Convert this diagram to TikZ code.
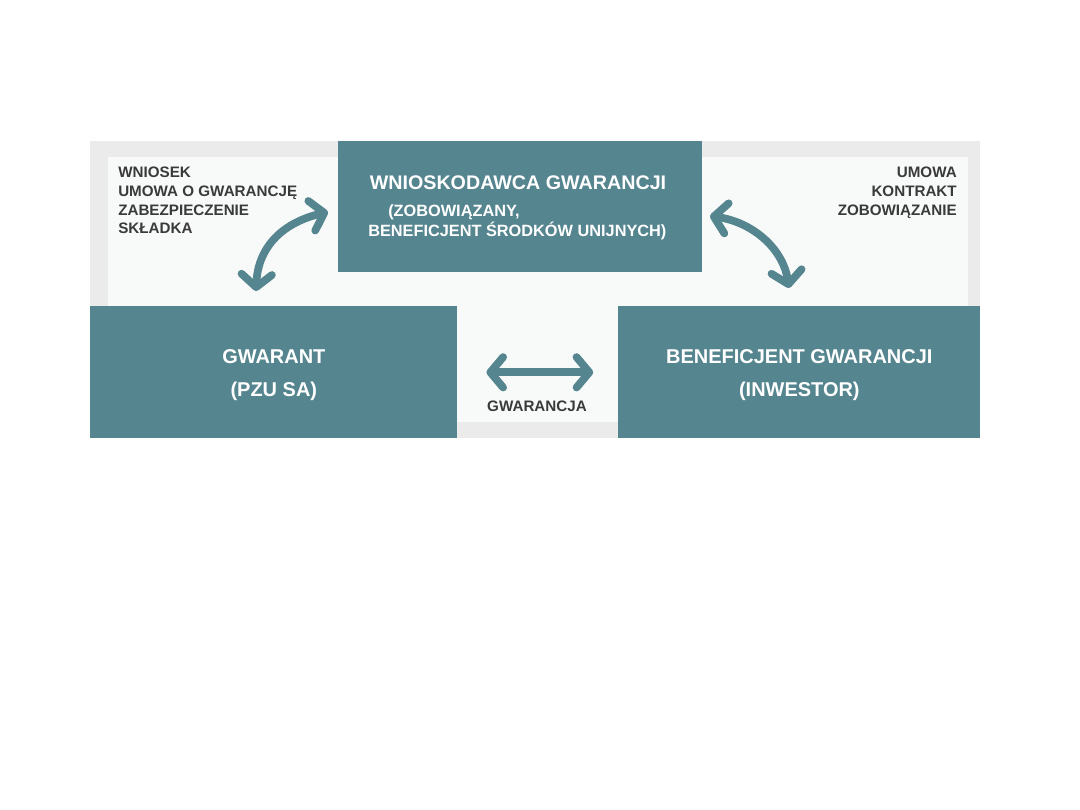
\documentclass[tikz,border=0pt]{standalone}
\usepackage{fontspec}
\setmainfont{Liberation Sans}
\usetikzlibrary{arrows.meta,calc}
\definecolor{teal}{HTML}{55858F}
\definecolor{frame}{HTML}{EBEBEB}
\definecolor{inner}{HTML}{F8F9F9}
\definecolor{graytext}{HTML}{3A3A3A}
\tikzset{
  party/.style={draw=none,fill=teal,inner sep=0pt},
  boxtitle/.style={font=\bfseries\fontsize{14}{16}\selectfont,text=white},
  boxsub/.style={font=\bfseries\fontsize{11.6}{13.5}\selectfont,text=white,align=left,anchor=west,inner sep=0pt},
  boxname/.style={font=\bfseries\fontsize{14.2}{24}\selectfont,text=white,align=center},
  side/.style={font=\bfseries\fontsize{10.8}{13.3}\selectfont,text=graytext,inner sep=0pt},
  small/.style={font=\bfseries\fontsize{10.8}{12}\selectfont,text=graytext},
  arr/.style={{Straight Barb[round,length=3.2mm,width=7.6mm]}-{Straight Barb[round,length=3.2mm,width=7.6mm]},draw=teal,line width=5.5pt}
}
\begin{document}
\begin{tikzpicture}[x=0.025cm,y=-0.025cm]
\path[use as bounding box] (0,0) rectangle (1080,810);
\fill[frame] (90,141) rectangle (980,438);
\fill[inner] (108,157) rectangle (968,422);

% the three parties
\node[party,minimum width=9.1cm,minimum height=3.275cm,anchor=north west] (wnioskodawca) at (338,141) {};
\node[party,minimum width=9.175cm,minimum height=3.3cm,anchor=north west] (gwarant) at (90,306) {};
\node[party,minimum width=9.05cm,minimum height=3.3cm,anchor=north west] (beneficjent) at (618,306) {};

\node[boxtitle] (wtitle) at (518,183) {WNIOSKODAWCA GWARANCJI};
\node[boxsub] (wsub1) at (388,212) {(ZOBOWIĄZANY,};
\node[boxsub] (wsub2) at (368,231) {BENEFICJENT ŚRODKÓW UNIJNYCH)};
\node[boxname] (gname) at ([yshift=-2]gwarant) {GWARANT\\(PZU SA)};
\node[boxname] (bname) at ([yshift=-2]beneficjent) {BENEFICJENT GWARANCJI\\(INWESTOR)};

% documents exchanged
\node[side,align=left,anchor=north west] (lewe) at (118,167) {WNIOSEK\\UMOWA O GWARANCJĘ\\ZABEZPIECZENIE\\SKŁADKA};
\node[side,align=right,anchor=north east] (prawe) at (957,167) {UMOWA\\KONTRAKT\\ZOBOWIĄZANIE};
\node[small] (gwarancja) at (537,406) {GWARANCJA};

% arrows
\coordinate (lgora) at (328,212);
\coordinate (ldol) at (256,291);
\coordinate (pgora) at (710,216);
\coordinate (pdol) at (789,288);
\draw[arr] (lgora) .. controls (285,222) and (258,245) .. (ldol);
\draw[arr] (pgora) .. controls (752,222) and (783,248) .. (pdol);
\draw[arr,shorten <=0.72cm,shorten >=0.62cm] (gwarant.east) -- (beneficjent.west);
\end{tikzpicture}
\end{document}
